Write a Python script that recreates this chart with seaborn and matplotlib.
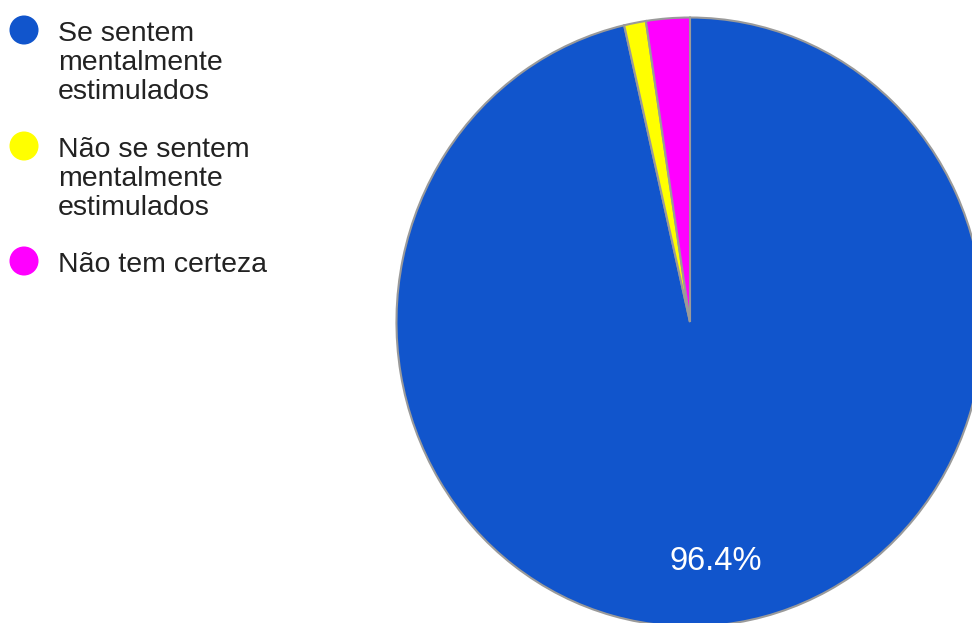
import matplotlib
matplotlib.use("Agg")
import matplotlib.pyplot as plt
import seaborn as sns

sns.set_theme(style="white")
plt.rcParams['font.family'] = ['Liberation Sans', 'DejaVu Sans']

categories = ["Se sentem\nmentalmente\nestimulados",
              "Não se sentem\nmentalmente\nestimulados",
              "Não tem certeza"]
values = [96.4, 1.2, 2.4]
colors = ["#1155cc", "#ffff00", "#ff00ff"]

W, H = 972, 623
fig = plt.figure(figsize=(W / 100, H / 100), dpi=100)

# pie axes (pixel geometry: center (690,322), rx 295, ry 306)
cx, cy, rx, ry = 690, 322, 295, 306
ax = fig.add_axes([(cx - rx) / W, (H - (cy + ry)) / H, 2 * rx / W, 2 * ry / H])
wedges, texts, autotexts = ax.pie(
    values, colors=colors, startangle=90, counterclock=False,
    autopct=lambda p: f"{p:.1f}%" if p > 5 else "", pctdistance=0.79,
    wedgeprops=dict(edgecolor="#9a9a9a", linewidth=1.5),
    textprops=dict(color="white", fontsize=23.5))
ax.set_aspect("auto")
ax.set_xlim(-1.005, 1.005)
ax.set_ylim(-1.005, 1.005)
ax.axis("off")
for w in wedges:
    w.set_clip_on(False)

# legend overlay in pixel coordinates
lax = fig.add_axes([0, 0, 1, 1])
lax.set_xlim(0, W)
lax.set_ylim(H, 0)
lax.axis("off")
ys = [30, 146, 261]
for lab, col, y in zip(categories, colors, ys):
    lax.scatter([24], [y], s=29 ** 2 * 0.52, color=col, edgecolor="none")
    for i, line in enumerate(lab.split("\n")):
        lax.text(58, y + 11 + 29 * i, line, fontsize=20.5, color="#222222",
                 va="baseline", ha="left")

fig.savefig("out.png", dpi=100)
